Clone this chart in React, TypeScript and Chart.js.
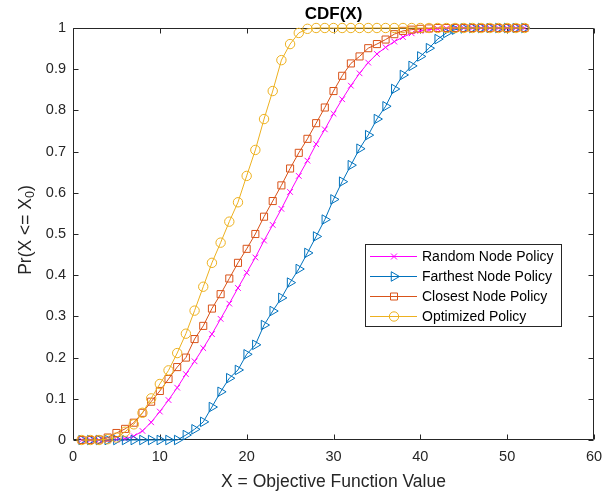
import React, { useEffect, useRef } from 'react';
import { Chart, registerables } from 'chart.js';

Chart.register(...registerables);

const xValues = [1, 2, 3, 4, 5, 6, 7, 8, 9, 10, 11, 12, 13, 14, 15, 16, 17, 18, 19, 20, 21, 22, 23, 24, 25, 26, 27, 28, 29, 30, 31, 32, 33, 34, 35, 36, 37, 38, 39, 40, 41, 42, 43, 44, 45, 46, 47, 48, 49, 50, 51, 52];

const randomNode = [0, 0, 0, 0, 0.001, 0.003, 0.009, 0.022, 0.043, 0.069, 0.097, 0.127, 0.16, 0.191, 0.223, 0.257, 0.294, 0.331, 0.369, 0.406, 0.443, 0.484, 0.522, 0.561, 0.602, 0.641, 0.678, 0.718, 0.754, 0.792, 0.827, 0.86, 0.89, 0.916, 0.937, 0.953, 0.967, 0.978, 0.987, 0.993, 0.996, 0.998, 0.999, 1, 1, 1, 1, 1, 1, 1, 1, 1];

const farthestNode = [0, 0, 0, 0, 0, 0, 0, 0, 0, 0, 0, 0, 0.012, 0.026, 0.044, 0.08, 0.117, 0.15, 0.17, 0.208, 0.231, 0.279, 0.313, 0.345, 0.382, 0.415, 0.454, 0.494, 0.535, 0.584, 0.627, 0.667, 0.707, 0.74, 0.779, 0.81, 0.852, 0.886, 0.908, 0.931, 0.951, 0.973, 0.988, 0.996, 0.999, 1, 1, 1, 1, 1, 1, 1];

const closestNode = [0, 0, 0.001, 0.006, 0.017, 0.027, 0.042, 0.066, 0.093, 0.119, 0.148, 0.177, 0.2, 0.245, 0.277, 0.319, 0.354, 0.392, 0.43, 0.464, 0.5, 0.542, 0.58, 0.618, 0.659, 0.697, 0.731, 0.769, 0.807, 0.847, 0.884, 0.914, 0.931, 0.951, 0.961, 0.972, 0.985, 0.993, 0.996, 0.998, 0.999, 1, 1, 1, 1, 1, 1, 1, 1, 1, 1, 1];

const optimized = [0, 0, 0, 0.002, 0.006, 0.02, 0.038, 0.066, 0.101, 0.136, 0.169, 0.211, 0.258, 0.314, 0.372, 0.43, 0.479, 0.53, 0.577, 0.641, 0.704, 0.779, 0.847, 0.922, 0.961, 0.988, 0.998, 1, 1, 1, 1, 1, 1, 1, 1, 1, 1, 1, 1, 1, 1, 1, 1, 1, 1, 1, 1, 1, 1, 1, 1, 1];

const seriesNames = ['Random Node Policy', 'Farthest Node Policy', 'Closest Node Policy', 'Optimized Policy'];
const seriesColors = ['#FF00FF', '#0072BD', '#D95319', '#EDB120'];

const xTickValues = [0, 10, 20, 30, 40, 50, 60];
const xTickLabels = ['0', '10', '20', '30', '40', '50', '60'];
const yTickValues = [0, 0.1, 0.2, 0.3, 0.4, 0.5, 0.6, 0.7, 0.8, 0.9, 1];
const yTickLabels = ['0', '0.1', '0.2', '0.3', '0.4', '0.5', '0.6', '0.7', '0.8', '0.9', '1'];

const chartTitle = 'CDF(X)';
const xTitle = 'X = Objective Function Value';
const yTitleMain = 'Pr(X <= X';
const yTitleSub = '0';
const yTitleEnd = ')';

const FONT = "'Liberation Sans', Arial, Helvetica, sans-serif";
const AXIS_COLOR = '#262626';

function drawMarker(ctx: CanvasRenderingContext2D, kind: string, x: number, y: number, color: string) {
  ctx.save();
  ctx.strokeStyle = color;
  ctx.lineWidth = 1;
  ctx.beginPath();
  if (kind === 'crossRot') {
    const a = 3;
    ctx.moveTo(x - a, y - a); ctx.lineTo(x + a, y + a);
    ctx.moveTo(x - a, y + a); ctx.lineTo(x + a, y - a);
  } else if (kind === 'triangle') {
    const r = 5.5;
    ctx.moveTo(x + r, y);
    ctx.lineTo(x - r * 0.5, y - r * 0.866);
    ctx.lineTo(x - r * 0.5, y + r * 0.866);
    ctx.closePath();
  } else if (kind === 'rect') {
    const h = 3.5;
    ctx.rect(x - h, y - h, 2 * h, 2 * h);
  } else {
    ctx.arc(x, y, 4.7, 0, Math.PI * 2);
  }
  ctx.stroke();
  ctx.restore();
}

const pointKinds = ['crossRot', 'triangle', 'rect', 'circle'];

const decorPlugin = {
  id: 'decor',
  beforeDatasetsDraw(chart: any) {
    const { ctx, chartArea } = chart;
    const { left, right, top, bottom } = chartArea;
    const xs = chart.scales.x;
    const ys = chart.scales.y;
    ctx.save();
    ctx.strokeStyle = AXIS_COLOR;
    ctx.lineWidth = 1;
    ctx.beginPath();
    const L = Math.round(left) + 0.5;
    const R = Math.round(right) - 0.5;
    const T = Math.round(top) + 0.5;
    const B = Math.round(bottom) - 0.5;
    ctx.moveTo(L, T); ctx.lineTo(R, T); ctx.lineTo(R, B); ctx.lineTo(L, B); ctx.closePath();
    xTickValues.forEach((v) => {
      const px = Math.round(xs.getPixelForValue(v)) + 0.5;
      ctx.moveTo(px, B); ctx.lineTo(px, B - 5);
      ctx.moveTo(px, T); ctx.lineTo(px, T + 5);
    });
    yTickValues.forEach((v) => {
      const py = Math.round(ys.getPixelForValue(v)) + 0.5;
      ctx.moveTo(L, py); ctx.lineTo(L + 5, py);
      ctx.moveTo(R, py); ctx.lineTo(R - 5, py);
    });
    ctx.stroke();
    ctx.restore();
  },
  afterDraw(chart: any) {
    const { ctx, chartArea } = chart;
    const cx = (chartArea.left + chartArea.right) / 2;
    ctx.save();
    // title
    ctx.fillStyle = '#000000';
    ctx.font = `bold 17px ${FONT}`;
    ctx.textAlign = 'center';
    ctx.textBaseline = 'middle';
    ctx.fillText(chartTitle, cx, 14);
    // x title
    ctx.fillStyle = AXIS_COLOR;
    ctx.font = `17.5px ${FONT}`;
    ctx.fillText(xTitle, cx, 482);
    // y title (rotated, with subscript)
    ctx.save();
    ctx.translate(26, 230);
    ctx.rotate(-Math.PI / 2);
    ctx.textAlign = 'left';
    ctx.textBaseline = 'middle';
    const mainFont = `17.5px ${FONT}`;
    const subFont = `12.5px ${FONT}`;
    ctx.font = mainFont;
    const w1 = ctx.measureText(yTitleMain).width;
    const w3 = ctx.measureText(yTitleEnd).width;
    ctx.font = subFont;
    const w2 = ctx.measureText(yTitleSub).width;
    const total = w1 + w2 + w3;
    let x0 = -total / 2;
    ctx.font = mainFont;
    ctx.fillText(yTitleMain, x0, 0);
    x0 += w1;
    ctx.font = subFont;
    ctx.fillText(yTitleSub, x0, 5);
    x0 += w2;
    ctx.font = mainFont;
    ctx.fillText(yTitleEnd, x0, 0);
    ctx.restore();
    // legend
    const bx = 365.5, by = 244.5, bw = 196, bh = 82;
    ctx.fillStyle = '#ffffff';
    ctx.fillRect(bx, by, bw, bh);
    ctx.strokeStyle = AXIS_COLOR;
    ctx.lineWidth = 1;
    ctx.strokeRect(bx, by, bw, bh);
    ctx.font = `14px ${FONT}`;
    ctx.textAlign = 'left';
    ctx.textBaseline = 'middle';
    seriesNames.forEach((name, i) => {
      const y = 256.5 + i * 20;
      ctx.strokeStyle = seriesColors[i];
      ctx.beginPath();
      ctx.moveTo(370, y); ctx.lineTo(417, y);
      ctx.stroke();
      drawMarker(ctx, pointKinds[i], 394, y, seriesColors[i]);
      ctx.fillStyle = '#000000';
      ctx.fillText(name, 422, y + 0.5);
    });
    ctx.restore();
  },
};

export default function App() {
  const canvasRef = useRef<HTMLCanvasElement | null>(null);

  useEffect(() => {
    document.body.style.margin = '0';
    const canvas = canvasRef.current;
    if (!canvas) return;
    const seriesData = [randomNode, farthestNode, closestNode, optimized];
    const radii = [4, 5.5, 5, 4.7];
    const orders = [3, 2, 1, 0];
    const datasets = seriesData.map((vals, i) => ({
      label: seriesNames[i],
      data: xValues.map((x, j) => ({ x, y: vals[j] })),
      borderColor: seriesColors[i],
      backgroundColor: 'rgba(0,0,0,0)',
      pointBorderColor: seriesColors[i],
      pointBackgroundColor: 'rgba(0,0,0,0)',
      pointStyle: pointKinds[i],
      pointRotation: i === 1 ? 90 : 0,
      pointRadius: radii[i],
      pointBorderWidth: 1,
      borderWidth: 1,
      tension: 0,
      fill: false,
      clip: false as any,
      order: orders[i],
    }));

    const chart = new Chart(canvas, {
      type: 'line',
      data: { datasets },
      options: {
        responsive: false,
        animation: false,
        devicePixelRatio: 1,
        layout: { padding: { left: 0, top: 28, right: 20, bottom: 0 } },
        plugins: {
          legend: { display: false },
          title: { display: false },
          tooltip: { enabled: false },
        },
        scales: {
          x: {
            type: 'linear',
            min: 0,
            max: 60,
            grid: { display: false, drawTicks: false },
            border: { display: false },
            afterFit: (scale: any) => { scale.height = 53; },
            afterBuildTicks: (scale: any) => { scale.ticks = xTickValues.map((v) => ({ value: v })); },
            ticks: {
              padding: 8,
              color: AXIS_COLOR,
              font: { family: FONT, size: 14.5 },
              maxRotation: 0,
              autoSkip: false,
              callback: (value: any) => {
                const idx = xTickValues.indexOf(Number(value));
                return idx >= 0 ? xTickLabels[idx] : '';
              },
            },
          },
          y: {
            type: 'linear',
            min: 0,
            max: 1,
            grid: { display: false, drawTicks: false },
            border: { display: false },
            afterFit: (scale: any) => { scale.width = 73; },
            afterBuildTicks: (scale: any) => { scale.ticks = yTickValues.map((v) => ({ value: v })); },
            ticks: {
              padding: 7,
              color: AXIS_COLOR,
              font: { family: FONT, size: 14.5 },
              autoSkip: false,
              callback: (value: any) => {
                const idx = yTickValues.findIndex((v) => Math.abs(v - Number(value)) < 1e-9);
                return idx >= 0 ? yTickLabels[idx] : '';
              },
            },
          },
        },
      },
      plugins: [decorPlugin],
    });
    return () => chart.destroy();
  }, []);

  return (
    <div style={{ position: 'fixed', left: 0, top: 0, width: 614, height: 493, background: '#ffffff' }}>
      <canvas ref={canvasRef} width={614} height={493} style={{ width: 614, height: 493, display: 'block' }} />
    </div>
  );
}
